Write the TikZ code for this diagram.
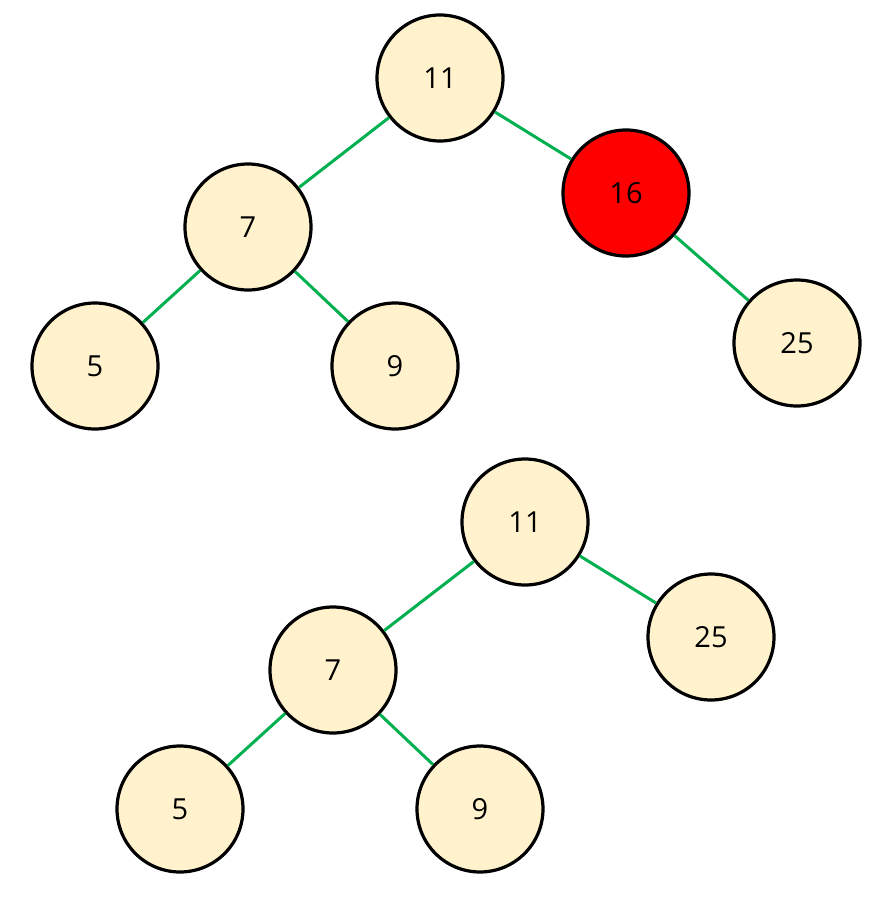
\documentclass[tikz,border=0pt]{standalone}
\usepackage{fontspec}
\setmainfont{Open Sans}
\definecolor{nodefill}{HTML}{FFF2CC}
\definecolor{edgegreen}{HTML}{00B050}
\begin{document}
\begin{tikzpicture}[x=1pt,y=-1pt,
  tn/.style={circle,draw=black,line width=3.2pt,fill=nodefill,minimum size=126pt,inner sep=0pt,font=\fontsize{29}{34}\selectfont},
  rn/.style={tn,fill=red},
  ed/.style={draw=edgegreen,line width=3pt}]
\useasboundingbox (0,0) rectangle (888,897);
% top tree
\node[tn] (a11) at (440,78) {11};
\node[tn] (a7) at (248,227) {7};
\node[rn] (a16) at (626,193) {16};
\node[tn] (a5) at (95,366) {5};
\node[tn] (a9) at (395,366) {9};
\node[tn] (a25) at (797,343) {25};
% bottom tree
\node[tn] (b11) at (525,522) {11};
\node[tn] (b7) at (333,670) {7};
\node[tn] (b25) at (711,637) {25};
\node[tn] (b5) at (180,809) {5};
\node[tn] (b9) at (480,809) {9};
\path[ed] (a11) -- (a7);
\path[ed] (a11) -- (a16);
\path[ed] (a7) -- (a5);
\path[ed] (a7) -- (a9);
\path[ed] (a16) -- (a25);
\path[ed] (b11) -- (b7);
\path[ed] (b11) -- (b25);
\path[ed] (b7) -- (b5);
\path[ed] (b7) -- (b9);
\end{tikzpicture}
\end{document}
